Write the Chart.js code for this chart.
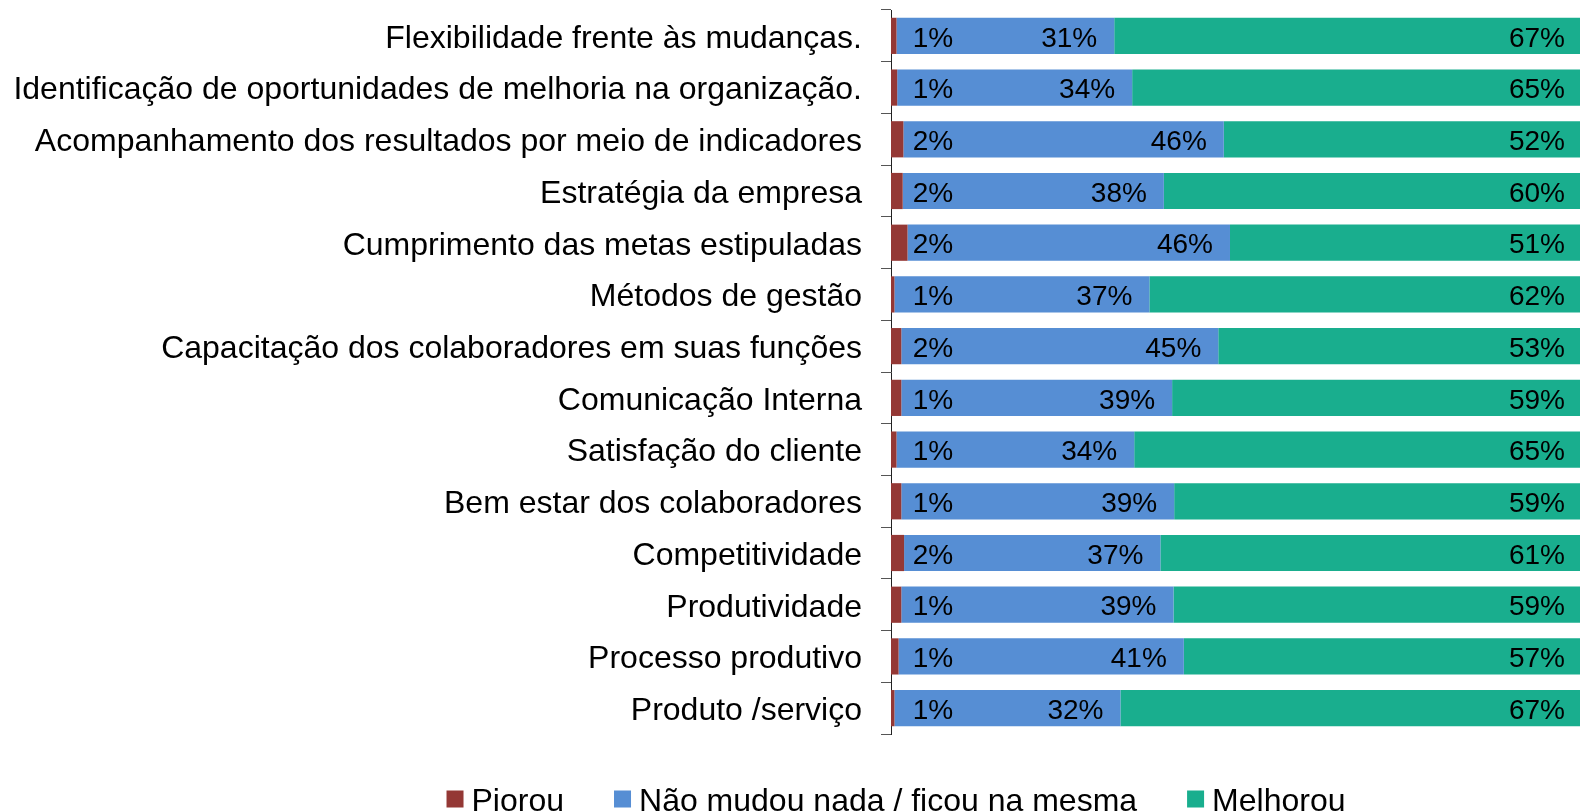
<!DOCTYPE html>
<html>
<head>
<meta charset="utf-8">
<title>Avaliação</title>
<script src="https://cdn.jsdelivr.net/npm/chart.js@4.4.1/dist/chart.umd.min.js"></script>
<style>
  body { margin: 0; background: #fff; }
  #wrap { width: 1580px; height: 811px; }
</style>
</head>
<body>
<div id="wrap"><canvas id="grafico" width="1580" height="811"></canvas></div>
<script>
// categorias (de cima para baixo)
const categorias = [
  "Flexibilidade frente às mudanças.",
  "Identificação de oportunidades de melhoria na organização.",
  "Acompanhamento dos resultados por meio de indicadores",
  "Estratégia da empresa",
  "Cumprimento das metas estipuladas",
  "Métodos de gestão",
  "Capacitação dos colaboradores em suas funções",
  "Comunicação Interna",
  "Satisfação do cliente",
  "Bem estar dos colaboradores",
  "Competitividade",
  "Produtividade",
  "Processo produtivo",
  "Produto /serviço"
];

const piorou   = [0.8, 0.9, 1.8, 1.7, 2.4, 0.5, 1.5, 1.5, 0.8, 1.5, 1.9, 1.5, 1.1, 0.5];
const naoMudou = [31.6, 34.1, 46.5, 37.9, 46.8, 37.0, 46.0, 39.3, 34.5, 39.6, 37.2, 39.5, 41.4, 32.8];
const melhorou = [67.6, 65.0, 51.7, 60.4, 50.8, 62.5, 52.5, 59.2, 64.7, 58.9, 60.9, 59.0, 57.5, 66.7];

// rótulos impressos no gráfico
const rotPiorou   = [1, 1, 2, 2, 2, 1, 2, 1, 1, 1, 2, 1, 1, 1];
const rotNaoMudou = [31, 34, 46, 38, 46, 37, 45, 39, 34, 39, 37, 39, 41, 32];
const rotMelhorou = [67, 65, 52, 60, 51, 62, 53, 59, 65, 59, 61, 59, 57, 67];

const nomesSeries = ["Piorou", "Não mudou nada / ficou na mesma", "Melhorou"];
const cores = ["#943835", "#568ED4", "#19AE8E"];

const FONTE = "'Liberation Sans', Arial, sans-serif";

// 🔹 rótulos de dados dentro das barras
const rotulosPlugin = {
  id: "rotulos",
  afterDatasetsDraw(chart) {
    const ctx = chart.ctx;
    const textos = [rotPiorou, rotNaoMudou, rotMelhorou];
    ctx.save();
    ctx.font = "28px " + FONTE;
    ctx.fillStyle = "#000";
    ctx.textBaseline = "middle";
    chart.data.datasets.forEach((ds, i) => {
      const meta = chart.getDatasetMeta(i);
      meta.data.forEach((bar, j) => {
        const txt = textos[i][j] + "%";
        if (i === 0) {
          ctx.textAlign = "center";
          ctx.fillText(txt, bar.base + 42, bar.y + 3);
        } else {
          ctx.textAlign = "right";
          ctx.fillText(txt, bar.x - (i === 1 ? 17 : 15), bar.y + 3);
        }
      });
    });
    ctx.restore();
  }
};

// 🔹 legenda embaixo (caixa + texto)
const legendaPlugin = {
  id: "legendaBaixo",
  afterDraw(chart) {
    const ctx = chart.ctx;
    const caixa = 17, gapTexto = 8, gapItem = 50;
    const centroX = 896, centroY = 799;
    ctx.save();
    ctx.font = "32px " + FONTE;
    ctx.textBaseline = "middle";
    ctx.textAlign = "left";
    const larguras = chart.data.datasets.map((ds) => caixa + gapTexto + ctx.measureText(ds.label).width);
    const total = larguras.reduce((a, b) => a + b, 0) + gapItem * (larguras.length - 1);
    let x = centroX - total / 2;
    chart.data.datasets.forEach((ds, i) => {
      ctx.fillStyle = ds.backgroundColor;
      ctx.fillRect(x, centroY - caixa / 2, caixa, caixa);
      ctx.fillStyle = "#000";
      ctx.fillText(ds.label, x + caixa + gapTexto, centroY + 3);
      x += larguras[i] + gapItem;
    });
    ctx.restore();
  }
};

const series = [piorou, naoMudou, melhorou];

new Chart(document.getElementById("grafico"), {
  type: "bar",
  data: {
    labels: categorias,
    datasets: series.map((valores, i) => ({
      label: nomesSeries[i],
      data: valores,
      backgroundColor: cores[i],
      borderWidth: 0,
      barPercentage: 0.7,
      categoryPercentage: 1.0,
    })),
  },
  options: {
    indexAxis: "y",
    responsive: false,
    animation: false,
    layout: { padding: { top: 10, bottom: 77, left: 0, right: 0 } },
    plugins: {
      legend: { display: false },
      tooltip: { enabled: false },
    },
    scales: {
      x: {
        stacked: true,
        min: 0,
        max: 100,
        display: false,
      },
      y: {
        stacked: true,
        afterFit(scale) {
          scale.width = 891;
          scale.paddingTop = 0;
          scale.paddingBottom = 0;
        },
        grid: {
          drawOnChartArea: false,
          drawTicks: true,
          tickLength: 10,
          tickColor: "#555",
        },
        border: { display: true, color: "#222", width: 1 },
        ticks: {
          color: "#000",
          padding: 19,
          labelOffset: 3,
          font: { family: FONTE, size: 32 },
        },
      },
    },
  },
  plugins: [rotulosPlugin, legendaPlugin],
});
</script>
</body>
</html>
